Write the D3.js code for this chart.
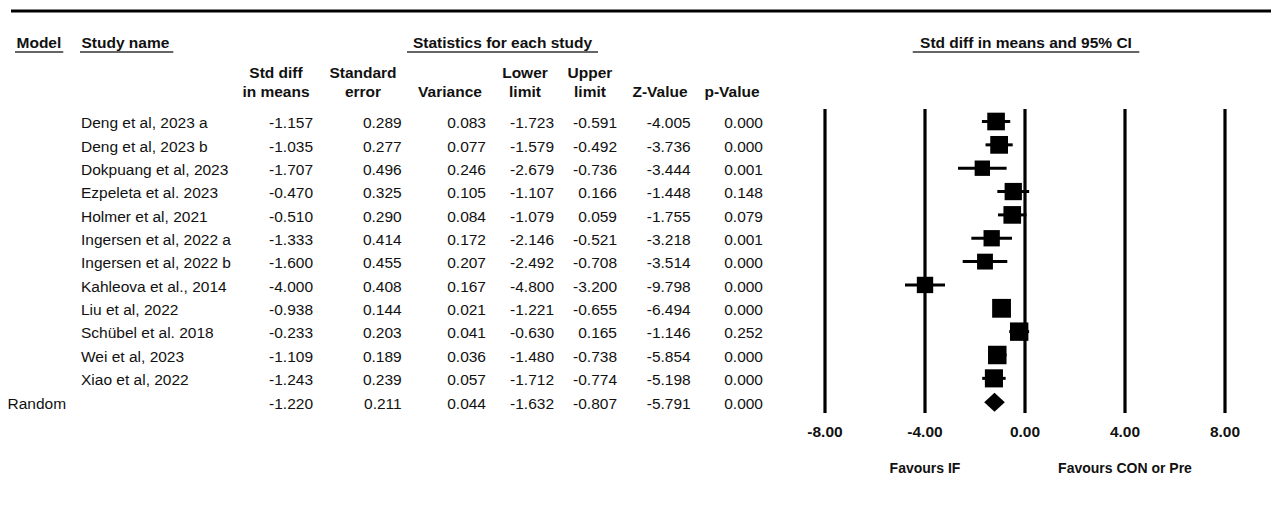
<!DOCTYPE html>
<html>
<head>
<meta charset="utf-8">
<script src="https://cdn.jsdelivr.net/npm/d3@7"></script>
<style>
  html, body { margin: 0; padding: 0; background: #fff; }
  svg { display: block; }
  text { font-family: "Liberation Sans", Arial, sans-serif; fill: #111; }
</style>
</head>
<body>
<svg id="chart" width="1271" height="514"></svg>
<script>
// Forest plot: intermittent fasting studies, std diff in means (random effects)
const studies = [
  "Deng et al, 2023 a", "Deng et al, 2023 b", "Dokpuang et al, 2023", "Ezpeleta et al. 2023",
  "Holmer et al, 2021", "Ingersen et al, 2022 a", "Ingersen et al, 2022 b", "Kahleova et al., 2014",
  "Liu et al, 2022", "Schübel et al. 2018", "Wei et al, 2023", "Xiao et al, 2022"
];
const stdDiff  = [-1.157, -1.035, -1.707, -0.470, -0.510, -1.333, -1.600, -4.000, -0.938, -0.233, -1.109, -1.243];
const stdErr   = [0.289, 0.277, 0.496, 0.325, 0.290, 0.414, 0.455, 0.408, 0.144, 0.203, 0.189, 0.239];
const variance = [0.083, 0.077, 0.246, 0.105, 0.084, 0.172, 0.207, 0.167, 0.021, 0.041, 0.036, 0.057];
const lowerLim = [-1.723, -1.579, -2.679, -1.107, -1.079, -2.146, -2.492, -4.800, -1.221, -0.630, -1.480, -1.712];
const upperLim = [-0.591, -0.492, -0.736, 0.166, 0.059, -0.521, -0.708, -3.200, -0.655, 0.165, -0.738, -0.774];
const zValue   = [-4.005, -3.736, -3.444, -1.448, -1.755, -3.218, -3.514, -9.798, -6.494, -1.146, -5.854, -5.198];
const pValue   = [0.000, 0.000, 0.001, 0.148, 0.079, 0.001, 0.000, 0.000, 0.000, 0.252, 0.000, 0.000];

// Pooled random-effects estimate
const pooledLabel = "Random";
const pooled = [-1.220, 0.211, 0.044, -1.632, -0.807, -5.791, 0.000];
const tau2 = 0.435;   // between-study variance used for the box weights

const axisTicks = [-8, -4, 0, 4, 8];
const favourLabels = [["Favours IF", -4], ["Favours CON or Pre", 4]];

const headerTop = ["Model", "Study name", "Statistics for each study", "Std diff in means and 95% CI"];
const colHeads = [
  ["Std diff", "in means"], ["Standard", "error"], ["", "Variance"],
  ["Lower", "limit"], ["Upper", "limit"], ["", "Z-Value"], ["", "p-Value"]
];

// ---- layout ----
const svg = d3.select("#chart");
const FS = 15.5;
const rowY0 = 121.5, rowStep = 23.35;
const plotTop = 109, plotBottom = 413;
const colRight = [313, 401.7, 486, 554, 617, 690.7, 763];
const colHeadCenter = [276, 363, 450, 525, 590, 660, 732];

const loc = d3.formatLocale({decimal: ".", thousands: ",", grouping: [3], currency: ["", ""], minus: "-"});
const f3 = loc.format(".3f"), f2 = loc.format(".2f");

const x = d3.scaleLinear().domain([-8, 8]).range([825, 1225]);
const rowY = i => rowY0 + i * rowStep;

// top rule
svg.append("line").attr("x1", 11).attr("x2", 1271).attr("y1", 11).attr("y2", 11)
  .attr("stroke", "#000").attr("stroke-width", 3);

// underlined group headers
const heads = [
  {t: headerTop[0], x: 16.5, anchor: "start", ul: [15, 63.3]},
  {t: headerTop[1], x: 81.5, anchor: "start", ul: [80, 173.3]},
  {t: headerTop[2], x: 502.5, anchor: "middle", ul: [407, 598]},
  {t: headerTop[3], x: x(0) + 1, anchor: "middle", ul: [912.7, 1139.3]}
];
heads.forEach(h => {
  svg.append("text").attr("x", h.x).attr("y", 48.2).attr("text-anchor", h.anchor)
    .attr("font-size", FS).attr("font-weight", "bold").text(h.t);
  svg.append("line").attr("x1", h.ul[0]).attr("x2", h.ul[1]).attr("y1", 52).attr("y2", 52)
    .attr("stroke", "#666").attr("stroke-width", 2);
});

// column headers
colHeads.forEach((c, j) => {
  c.forEach((line, k) => {
    if (!line) return;
    svg.append("text").attr("x", colHeadCenter[j]).attr("y", 78.2 + k * 19)
      .attr("text-anchor", "middle").attr("font-size", FS).attr("font-weight", "bold").text(line);
  });
});

// table rows
const rows = studies.map((s, i) => ({
  name: s, vals: [stdDiff[i], stdErr[i], variance[i], lowerLim[i], upperLim[i], zValue[i], pValue[i]]
}));
rows.forEach((r, i) => {
  svg.append("text").attr("x", 81).attr("y", rowY(i) + 6.8).attr("font-size", FS).text(r.name);
  r.vals.forEach((v, j) => {
    svg.append("text").attr("x", colRight[j]).attr("y", rowY(i) + 6.8)
      .attr("text-anchor", "end").attr("font-size", FS).text(f3(v));
  });
});
const iPool = studies.length;
svg.append("text").attr("x", 7.5).attr("y", rowY(iPool) + 6.8).attr("font-size", FS).text(pooledLabel);
pooled.forEach((v, j) => {
  svg.append("text").attr("x", colRight[j]).attr("y", rowY(iPool) + 6.8)
    .attr("text-anchor", "end").attr("font-size", FS).text(f3(v));
});

// vertical reference lines
svg.selectAll("line.grid").data(axisTicks).join("line").attr("class", "grid")
  .attr("x1", d => x(d)).attr("x2", d => x(d)).attr("y1", plotTop).attr("y2", plotBottom)
  .attr("stroke", "#000").attr("stroke-width", 3.2);

// tick labels
svg.selectAll("text.tick").data(axisTicks).join("text").attr("class", "tick")
  .attr("x", d => x(d)).attr("y", 437.3).attr("text-anchor", "middle")
  .attr("font-size", FS).attr("font-weight", "bold").text(d => f2(d));

// favours labels
favourLabels.forEach(([t, v]) => {
  svg.append("text").attr("x", x(v)).attr("y", 473.3).attr("text-anchor", "middle")
    .attr("font-size", 14).attr("font-weight", "bold").text(t);
});

// confidence intervals and weight-scaled boxes
const weights = variance.map(v => 1 / (v + tau2));
const side = d3.scaleSqrt().domain([0, d3.max(weights)]).range([0, 18.8]);

svg.selectAll("line.ci").data(rows).join("line").attr("class", "ci")
  .attr("x1", (d, i) => x(lowerLim[i])).attr("x2", (d, i) => x(upperLim[i]))
  .attr("y1", (d, i) => rowY(i)).attr("y2", (d, i) => rowY(i))
  .attr("stroke", "#000").attr("stroke-width", 3);

svg.selectAll("rect.box").data(rows).join("rect").attr("class", "box")
  .attr("x", (d, i) => x(stdDiff[i]) - side(weights[i]) / 2)
  .attr("y", (d, i) => rowY(i) - side(weights[i]) / 2)
  .attr("width", (d, i) => side(weights[i]))
  .attr("height", (d, i) => side(weights[i]))
  .attr("fill", "#000");

// pooled diamond
const py = rowY(iPool) + 0.5, ph = 9.5;
svg.append("path")
  .attr("d", `M${x(pooled[3])},${py} L${x(pooled[0])},${py - ph} L${x(pooled[4])},${py} L${x(pooled[0])},${py + ph} Z`)
  .attr("fill", "#000");
</script>
</body>
</html>
